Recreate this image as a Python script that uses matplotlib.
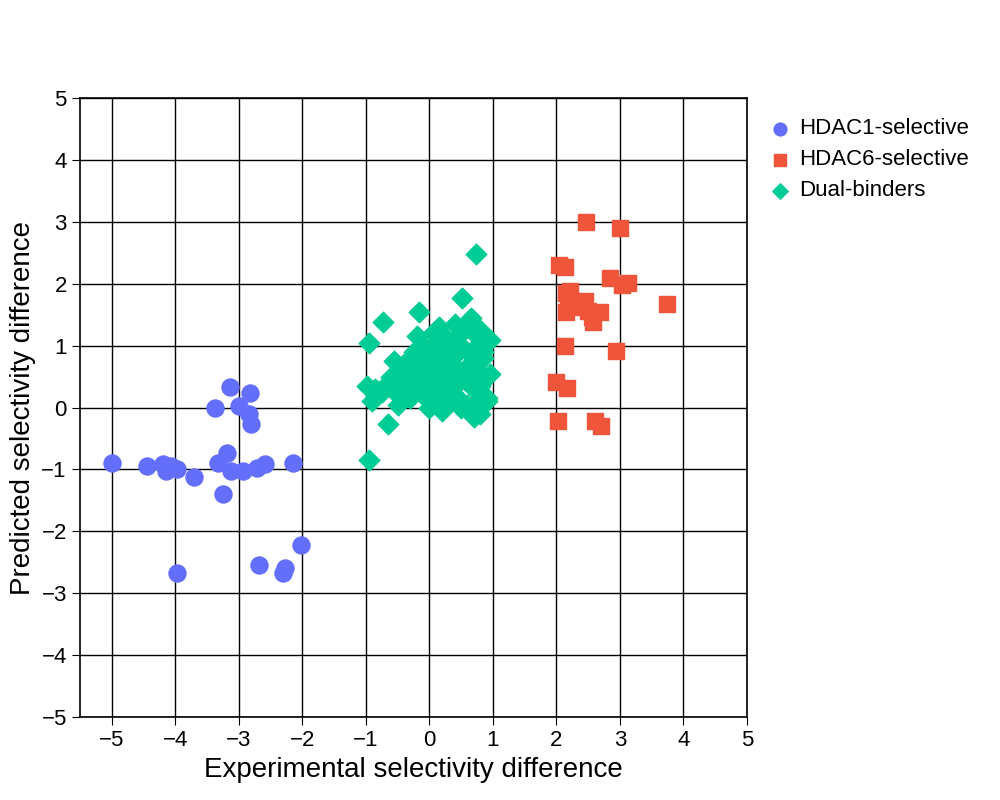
import matplotlib.pyplot as plt

# HDAC1-selective
h1_x = [-5.0, -4.45, -4.19, -4.15, -4.06, -3.97, -3.71, -3.97, -3.38, -3.33, -3.25, -3.19, -3.14,
        -3.13, -2.99, -2.94, -2.84, -2.83, -2.81, -2.72, -2.69, -2.58, -2.31, -2.27, -2.15, -2.02]
h1_y = [-0.89, -0.94, -0.92, -1.02, -0.95, -1.0, -1.12, -2.67, 0.0, -0.89, -1.39, -0.73, 0.34,
        -1.03, 0.02, -1.03, -0.1, 0.23, -0.26, -0.97, -2.54, -0.92, -2.67, -2.6, -0.89, -2.22]

# HDAC6-selective
h6_x = [2.46, 3.0, 2.04, 2.13, 2.84, 3.03, 3.13, 3.74, 2.15, 2.21, 2.18, 2.15, 2.29, 2.37, 2.45,
        2.50, 2.56, 2.69, 2.57, 2.13, 2.94, 2.0, 2.16, 2.02, 2.61, 2.70]
h6_y = [3.0, 2.9, 2.3, 2.27, 2.1, 1.99, 2.02, 1.67, 1.86, 1.88, 1.75, 1.55, 1.63, 1.67, 1.72,
        1.57, 1.47, 1.54, 1.38, 1.0, 0.92, 0.42, 0.32, -0.21, -0.21, -0.29]

# Dual-binders
dual_x = [0.74, -0.73, -0.95, -0.95, -0.65, -0.16, 0.52, 0.95, -0.98, -0.9, -0.85, -0.75, -0.7,
          -0.6, -0.55, -0.5, -0.45, -0.4, -0.35, -0.3, -0.25, -0.2, -0.15, -0.1, -0.05, 0.0,
          0.05, 0.1, 0.15, 0.2, 0.25, 0.3, 0.35, 0.4, 0.45, 0.5, 0.55, 0.6, 0.65, 0.7, 0.75,
          0.8, 0.85, 0.9, 0.95, -0.5, -0.4, -0.3, -0.2, -0.1, 0.0, 0.1, 0.2, 0.3, 0.4, 0.5,
          0.6, 0.7, 0.8, 0.9, -0.2, -0.05, 0.05, 0.15, 0.25, 0.35, 0.45, 0.55, 0.65, 0.75,
          0.85, 0.1, 0.3, 0.5, 0.7, -0.35, -0.15, 0.2, 0.4, 0.6, 0.8, 0.0, 0.3, 0.6, 0.85,
          -0.6, -0.25, 0.15, 0.45, 0.7]
dual_y = [2.48, 1.39, 1.04, -0.84, -0.27, 1.55, 1.78, 1.1, 0.35, 0.1, 0.3, 0.25, 0.35,
          0.5, 0.75, 0.2, 0.6, 0.4, 0.3, 0.55, 0.9, 1.15, 0.7, 1.0, 0.45, 0.8, 1.2, 0.6,
          1.3, 0.9, 0.5, 1.1, 0.7, 1.35, 0.4, 0.95, 1.25, 0.65, 1.45, 0.3, 1.0, 1.25, 0.8,
          0.15, 0.55, 0.05, 0.25, 0.15, 0.4, 0.2, 0.0, 0.3, -0.05, 0.1, 0.2, 0.0, 0.45,
          -0.15, 0.35, 0.1, 0.65, 0.55, 0.85, 0.45, 0.75, 0.6, 0.9, 0.55, 0.85, 0.6, 0.45,
          1.05, 0.95, 1.2, 1.2, 0.75, 0.95, 0.3, 0.15, 0.05, -0.1, 0.7, 0.75, 0.5, 0.9,
          0.35, 0.25, 0.15, 1.05, 0.05]

fig, ax = plt.subplots(figsize=(10, 8), dpi=100)
fig.subplots_adjust(left=0.08, right=0.747, top=0.877, bottom=0.104)

ax.scatter(h1_x, h1_y, marker='o', s=150, color='#636efa', label='HDAC1-selective', zorder=3)
ax.scatter(h6_x, h6_y, marker='s', s=130, color='#ef553b', label='HDAC6-selective', zorder=3)
ax.scatter(dual_x, dual_y, marker='D', s=110, color='#00cc96', label='Dual-binders', zorder=3)

ax.set_xlim(-5.5, 5)
ax.set_ylim(-5, 5)
ax.set_xticks(range(-5, 6))
ax.set_yticks(range(-5, 6))
ax.tick_params(labelsize=16, length=6)
ax.grid(True, color='black', linewidth=1)
for s in ax.spines.values():
    s.set_linewidth(1.2)
ax.set_xlabel('Experimental selectivity difference', fontsize=20, family='Liberation Sans')
ax.set_ylabel('Predicted selectivity difference', fontsize=20, family='Liberation Sans')
for lab in ax.get_xticklabels() + ax.get_yticklabels():
    lab.set_family('Liberation Sans')

ax.legend(loc='upper left', bbox_to_anchor=(0.995, 1.0), frameon=False, markerscale=0.75,
          prop={'family': 'Liberation Sans', 'size': 16}, handletextpad=0.1,
          labelspacing=0.45, handlelength=1.5)

fig.savefig('out.png')
